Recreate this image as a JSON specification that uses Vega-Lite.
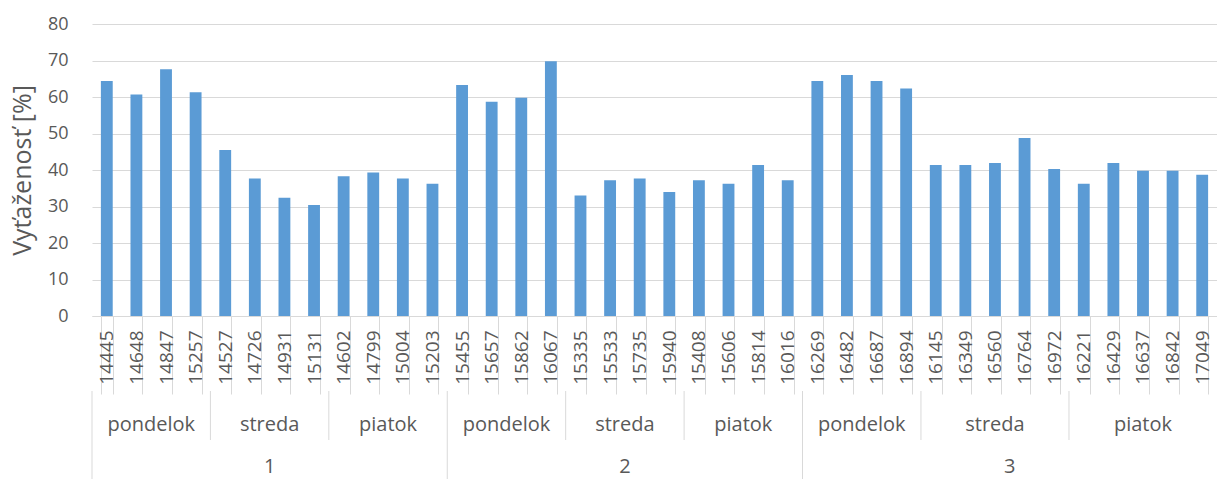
{
  "$schema": "https://vega.github.io/schema/vega-lite/v6.json",
  "background": "white",
  "padding": {"left": 10, "top": 15, "right": 0, "bottom": 0},
  "config": {"view": {"stroke": null}, "font": "Open Sans"},
  "data": {"values": [
    {"week": "1", "day": "pondelok", "id": "14445", "v": 64.4},
    {"week": "1", "day": "pondelok", "id": "14648", "v": 60.7},
    {"week": "1", "day": "pondelok", "id": "14847", "v": 67.6},
    {"week": "1", "day": "pondelok", "id": "15257", "v": 61.3},
    {"week": "1", "day": "streda", "id": "14527", "v": 45.5},
    {"week": "1", "day": "streda", "id": "14726", "v": 37.7},
    {"week": "1", "day": "streda", "id": "14931", "v": 32.4},
    {"week": "1", "day": "streda", "id": "15131", "v": 30.4},
    {"week": "1", "day": "piatok", "id": "14602", "v": 38.3},
    {"week": "1", "day": "piatok", "id": "14799", "v": 39.3},
    {"week": "1", "day": "piatok", "id": "15004", "v": 37.7},
    {"week": "1", "day": "piatok", "id": "15203", "v": 36.2},
    {"week": "2", "day": "pondelok", "id": "15455", "v": 63.3},
    {"week": "2", "day": "pondelok", "id": "15657", "v": 58.7},
    {"week": "2", "day": "pondelok", "id": "15862", "v": 59.8},
    {"week": "2", "day": "pondelok", "id": "16067", "v": 69.8},
    {"week": "2", "day": "streda", "id": "15335", "v": 33.0},
    {"week": "2", "day": "streda", "id": "15533", "v": 37.2},
    {"week": "2", "day": "streda", "id": "15735", "v": 37.7},
    {"week": "2", "day": "streda", "id": "15940", "v": 34.0},
    {"week": "2", "day": "piatok", "id": "15408", "v": 37.2},
    {"week": "2", "day": "piatok", "id": "15606", "v": 36.2},
    {"week": "2", "day": "piatok", "id": "15814", "v": 41.4},
    {"week": "2", "day": "piatok", "id": "16016", "v": 37.2},
    {"week": "3", "day": "pondelok", "id": "16269", "v": 64.4},
    {"week": "3", "day": "pondelok", "id": "16482", "v": 66.0},
    {"week": "3", "day": "pondelok", "id": "16687", "v": 64.4},
    {"week": "3", "day": "pondelok", "id": "16894", "v": 62.3},
    {"week": "3", "day": "streda", "id": "16145", "v": 41.4},
    {"week": "3", "day": "streda", "id": "16349", "v": 41.4},
    {"week": "3", "day": "streda", "id": "16560", "v": 41.9},
    {"week": "3", "day": "streda", "id": "16764", "v": 48.8},
    {"week": "3", "day": "streda", "id": "16972", "v": 40.3},
    {"week": "3", "day": "piatok", "id": "16221", "v": 36.2},
    {"week": "3", "day": "piatok", "id": "16429", "v": 41.9},
    {"week": "3", "day": "piatok", "id": "16637", "v": 39.8},
    {"week": "3", "day": "piatok", "id": "16842", "v": 39.8},
    {"week": "3", "day": "piatok", "id": "17049", "v": 38.7}
  ]},
  "spacing": 75,
  "bounds": "flush",
  "resolve": {"scale": {"x": "independent"}},
  "vconcat": [
    {
      "width": 1125,
      "height": 292,
      "mark": {"type": "bar", "color": "#5B9BD5"},
      "encoding": {
        "x": {
          "field": "id", "type": "nominal", "sort": null,
          "scale": {"paddingInner": 0.6, "paddingOuter": 0.3},
          "axis": {
            "title": null, "labelAngle": -90, "labelFontSize": 19, "labelColor": "#595959",
            "labelPadding": -64, "ticks": true, "tickSize": 78, "tickBand": "extent",
            "tickColor": "#d9d9d9", "domainColor": "#d9d9d9", "labelFont": "Open Sans"
          }
        },
        "y": {
          "field": "v", "type": "quantitative",
          "scale": {"domain": [0, 80]},
          "axis": {
            "title": "Vyťaženosť [%]", "values": [0, 10, 20, 30, 40, 50, 60, 70, 80],
            "grid": true, "gridColor": "#d9d9d9", "domain": false, "ticks": false, "tickSize": 0,
            "labelPadding": 24, "labelFontSize": 18, "labelColor": "#595959", "labelFont": "Open Sans",
            "titleFontSize": 25, "titleFontWeight": "normal", "titleColor": "#595959",
            "titleFont": "Open Sans", "titlePadding": 12
          }
        }
      }
    },
    {
      "spacing": 0,
      "bounds": "flush",
      "resolve": {"scale": {"x": "independent"}},
      "vconcat": [
        {
          "width": 1125,
          "height": 49,
          "transform": [
            {"joinaggregate": [{"op": "count", "as": "n"}], "groupby": ["week", "day"]},
            {"window": [{"op": "row_number", "as": "r"}], "groupby": ["week", "day"]}
          ],
          "layer": [
            {
              "mark": {"type": "rule", "color": "#d9d9d9"},
              "encoding": {
                "x": {"field": "id", "type": "nominal", "sort": null, "bandPosition": 0,
                      "scale": {"paddingInner": 0, "paddingOuter": 0}, "axis": null},
                "strokeOpacity": {"condition": {"test": "datum.r == 1", "value": 1}, "value": 0}
              }
            },
            {
              "mark": {"type": "text", "fontSize": 20, "color": "#595959", "dy": 9},
              "encoding": {
                "x": {"field": "id", "type": "nominal", "sort": null, "bandPosition": 1,
                      "scale": {"paddingInner": 0, "paddingOuter": 0}, "axis": null},
                "text": {"condition": {"test": "datum.n % 2 == 0 && datum.r == datum.n / 2", "field": "day"}, "value": ""}
              }
            },
            {
              "mark": {"type": "text", "fontSize": 20, "color": "#595959", "dy": 9},
              "encoding": {
                "x": {"field": "id", "type": "nominal", "sort": null, "bandPosition": 0.5,
                      "scale": {"paddingInner": 0, "paddingOuter": 0}, "axis": null},
                "text": {"condition": {"test": "datum.n % 2 == 1 && datum.r == (datum.n + 1) / 2", "field": "day"}, "value": ""}
              }
            }
          ]
        },
        {
          "width": 1125,
          "height": 39,
          "transform": [
            {"joinaggregate": [{"op": "count", "as": "n"}], "groupby": ["week"]},
            {"window": [{"op": "row_number", "as": "r"}], "groupby": ["week"]}
          ],
          "layer": [
            {
              "mark": {"type": "rule", "color": "#d9d9d9"},
              "encoding": {
                "x": {"field": "id", "type": "nominal", "sort": null, "bandPosition": 0,
                      "scale": {"paddingInner": 0, "paddingOuter": 0}, "axis": null},
                "strokeOpacity": {"condition": {"test": "datum.r == 1", "value": 1}, "value": 0}
              }
            },
            {
              "mark": {"type": "text", "fontSize": 20, "color": "#595959", "dy": 7},
              "encoding": {
                "x": {"field": "id", "type": "nominal", "sort": null, "bandPosition": 1,
                      "scale": {"paddingInner": 0, "paddingOuter": 0}, "axis": null},
                "text": {"condition": {"test": "datum.n % 2 == 0 && datum.r == datum.n / 2", "field": "week"}, "value": ""}
              }
            },
            {
              "mark": {"type": "text", "fontSize": 20, "color": "#595959", "dy": 7},
              "encoding": {
                "x": {"field": "id", "type": "nominal", "sort": null, "bandPosition": 0.5,
                      "scale": {"paddingInner": 0, "paddingOuter": 0}, "axis": null},
                "text": {"condition": {"test": "datum.n % 2 == 1 && datum.r == (datum.n + 1) / 2", "field": "week"}, "value": ""}
              }
            }
          ]
        }
      ]
    }
  ]
}
